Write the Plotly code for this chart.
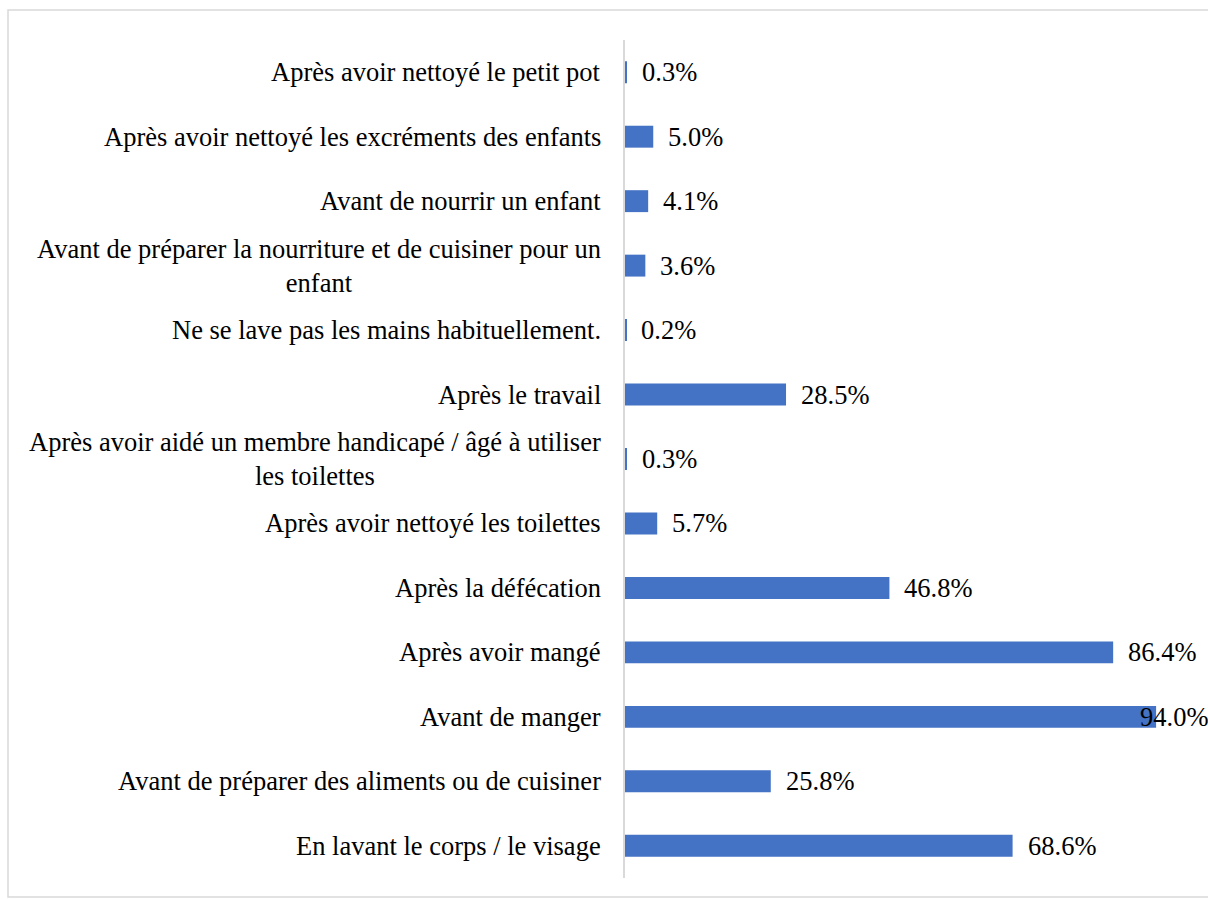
import plotly.graph_objects as go

# Hand-washing occasions (bottom to top) and share of respondents (%)
categories = [
    "En lavant le corps / le visage",
    "Avant de préparer des aliments ou de cuisiner",
    "Avant de manger",
    "Après avoir mangé",
    "Après la défécation",
    "Après avoir nettoyé les toilettes",
    "Après avoir aidé un membre handicapé / âgé à utiliser<br>les toilettes",
    "Après le travail",
    "Ne se lave pas les mains habituellement.",
    "Avant de préparer la nourriture et de cuisiner pour un<br>enfant",
    "Avant de nourrir un enfant",
    "Après avoir nettoyé les excréments des enfants",
    "Après avoir nettoyé le petit pot",
]
values = [68.6, 25.8, 94.0, 86.4, 46.8, 5.7, 0.3, 28.5, 0.2, 3.6, 4.1, 5.0, 0.3]

W, H = 1208, 899
FONT = "Liberation Serif, Times New Roman, serif"
FS = 26.5
X_MAX = 100

x0_px, x1_px = 625, 1190
y_top_px, y_bot_px = 40, 878

fig = go.Figure(
    go.Bar(
        x=values,
        y=categories,
        orientation="h",
        marker=dict(color="#4472C4", line=dict(width=0)),
        width=0.34,
        hoverinfo="skip",
    )
)

annotations = []
# category labels, centred lines, right-aligned against the axis
for c in categories:
    annotations.append(dict(
        x=0, y=c, xref="x", yref="y", text=c, showarrow=False,
        xanchor="right", yanchor="middle", align="center", xshift=-22,
        font=dict(family=FONT, size=FS, color="#000000"),
    ))

# value labels; ones that would run past the right edge are pulled inside
for c, v in zip(categories, values):
    label = f"{v:.1f}%"
    if v > 90:
        annotations.append(dict(
            x=1, y=c, xref="paper", yref="y", text=label, showarrow=False,
            xanchor="right", yanchor="middle", xshift=2,
            font=dict(family=FONT, size=FS, color="#000000"),
        ))
    else:
        annotations.append(dict(
            x=v, y=c, xref="x", yref="y", text=label, showarrow=False,
            xanchor="left", yanchor="middle", xshift=13,
            font=dict(family=FONT, size=FS, color="#000000"),
        ))

fig.update_layout(
    width=W, height=H,
    margin=dict(l=0, r=0, t=0, b=0),
    paper_bgcolor="white", plot_bgcolor="white",
    showlegend=False,
    annotations=annotations,
    xaxis=dict(
        domain=[x0_px / W, x1_px / W], range=[0, X_MAX],
        visible=False, fixedrange=True,
    ),
    yaxis=dict(
        domain=[1 - y_bot_px / H, 1 - y_top_px / H],
        categoryorder="array", categoryarray=categories,
        showticklabels=False, ticks="",
        showline=True, linecolor="#d9d9d9", linewidth=2,
        showgrid=False, zeroline=False, fixedrange=True,
    ),
    shapes=[dict(
        type="rect", xref="paper", yref="paper",
        x0=8 / W, x1=1.02, y0=1 - 897 / H, y1=1 - 10 / H,
        line=dict(color="#d9d9d9", width=1.5), layer="below",
    )],
)

fig.write_html("out.html")
